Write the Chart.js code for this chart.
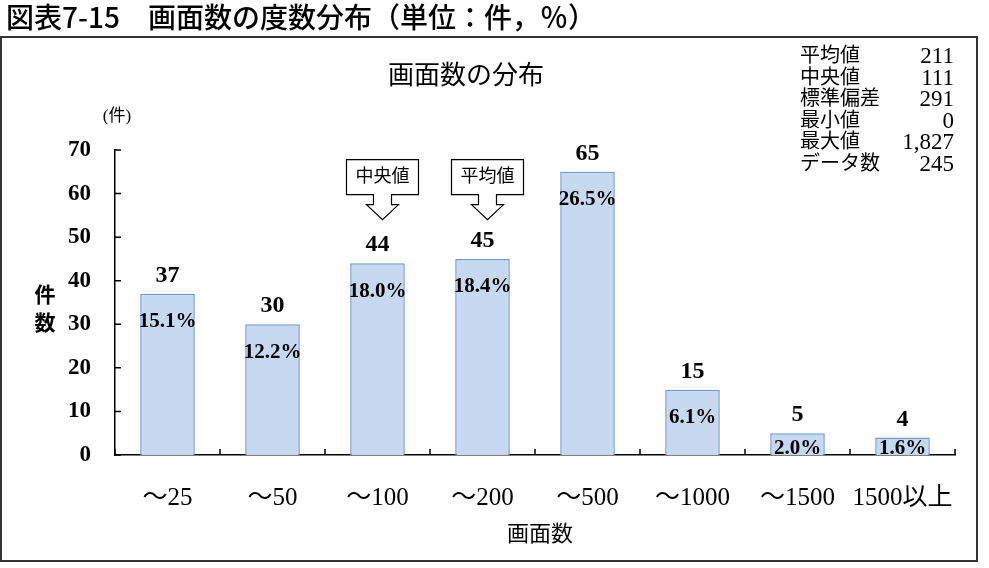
<!DOCTYPE html>
<html><head><meta charset="utf-8">
<script src="https://cdn.jsdelivr.net/npm/chart.js@4.4.1/dist/chart.umd.min.js"></script>
<style>html,body{margin:0;padding:0;background:#fff;}canvas{display:block;}</style>
</head><body>
<canvas id="c" width="989" height="568"></canvas>
<script>
const categories = ['～25','～50','～100','～200','～500','～1000','～1500','1500以上'];
const counts = [37,30,44,45,65,15,5,4];
const percents = ['15.1%','12.2%','18.0%','18.4%','26.5%','6.1%','2.0%','1.6%'];
const yTicks = [0,10,20,30,40,50,60,70];
const statLabels = ['平均値','中央値','標準偏差','最小値','最大値','データ数'];
const statValues = ['211','111','291','0','1,827','245'];
const calloutLabels = ['中央値','平均値'];
const calloutCategories = ['～100','～200'];
const calloutTipValues = [54,54];

const SERIF = '"Liberation Serif","DejaVu Serif","Noto Sans CJK JP",serif';
const SANS = '"Noto Sans CJK JP","Noto Sans",sans-serif';

const overlay = {
  id:'overlay',
  afterDraw(chart){
    const ctx = chart.ctx, ca = chart.chartArea;
    const ys = chart.scales.y;
    const meta = chart.getDatasetMeta(0);
    ctx.save();
    // frame
    ctx.strokeStyle = '#333'; ctx.lineWidth = 2;
    ctx.strokeRect(1, 37, 976, 524);
    // main title
    ctx.fillStyle = '#000';
    ctx.font = '500 28px ' + SANS;
    ctx.textAlign = 'left'; ctx.textBaseline = 'middle';
    ctx.fillText('図表7-15　画面数の度数分布（単位：件，％）', 6, 17);
    // chart title
    ctx.font = '26px ' + SERIF;
    ctx.textAlign = 'center';
    ctx.fillText('画面数の分布', 466, 77);
    // unit
    ctx.font = '17px ' + SERIF;
    ctx.fillText('(件)', 117, 117);
    // y title
    ctx.font = 'bold 21px ' + SERIF;
    ctx.fillText('件', 45, 297);
    ctx.fillText('数', 45, 325);
    // x title
    ctx.font = '22px ' + SERIF;
    ctx.fillText('画面数', 540, 535);
    // stats
    statLabels.forEach((l,i)=>{
      const y = 57 + i*21.5;
      ctx.font = '20px ' + SERIF;
      ctx.textAlign='left'; ctx.fillText(l, 800, y);
      ctx.font = '23px ' + SERIF;
      ctx.textAlign='right'; ctx.fillText(statValues[i], 954, y);
    });
    // axis tick marks (inside)
    ctx.strokeStyle='#000'; ctx.lineWidth=1.5;
    ctx.beginPath();
    yTicks.forEach(v=>{ const y=ys.getPixelForValue(v); ctx.moveTo(ca.left,y); ctx.lineTo(ca.left+6,y); });
    const step = (ca.right-ca.left)/categories.length;
    for(let i=0;i<=categories.length;i++){ const x=ca.left+i*step; ctx.moveTo(x,ca.bottom); ctx.lineTo(x,ca.bottom-6); }
    ctx.stroke();
    // count labels
    ctx.fillStyle='#000';
    ctx.textAlign='center'; ctx.textBaseline='middle';
    meta.data.forEach((bar,i)=>{
      ctx.font='bold 24px ' + SERIF;
      ctx.fillText(String(counts[i]), bar.x, bar.y-18);
    });
    // percent labels clipped to chart area
    ctx.save();
    ctx.beginPath(); ctx.rect(ca.left, ca.top, ca.right-ca.left, ca.bottom-ca.top); ctx.clip();
    meta.data.forEach((bar,i)=>{
      ctx.font='bold 21px ' + SERIF;
      ctx.fillText(percents[i], bar.x, Math.min(bar.y+28, ca.bottom-6));
    });
    ctx.restore();
    // callouts
    calloutLabels.forEach((lab,i)=>{
      const idx = categories.indexOf(calloutCategories[i]);
      const cx = meta.data[idx].x + 5;
      const tip = ys.getPixelForValue(calloutTipValues[i]);
      const bot = tip-25, top = bot-35, hw=36;
      ctx.beginPath();
      ctx.moveTo(cx-hw, top); ctx.lineTo(cx+hw, top); ctx.lineTo(cx+hw, bot);
      ctx.lineTo(cx+9, bot); ctx.lineTo(cx+9, bot+10); ctx.lineTo(cx+16, bot+10);
      ctx.lineTo(cx, tip); ctx.lineTo(cx-16, bot+10); ctx.lineTo(cx-9, bot+10);
      ctx.lineTo(cx-9, bot); ctx.lineTo(cx-hw, bot); ctx.closePath();
      ctx.fillStyle='#fff'; ctx.fill();
      ctx.strokeStyle='#000'; ctx.lineWidth=1.2; ctx.stroke();
      ctx.fillStyle='#000'; ctx.font='18px ' + SERIF;
      ctx.fillText(lab, cx, (top+bot)/2);
    });
    ctx.restore();
  }
};

new Chart(document.getElementById('c'), {
  type:'bar',
  data:{ labels: categories, datasets:[{ data: counts, backgroundColor:'#c6d9f1', borderColor:'#6f9bd4', borderWidth:1.5, barPercentage:0.52, categoryPercentage:1 }]},
  options:{
    responsive:false, animation:false, devicePixelRatio:1,
    layout:{ padding:{ top:150, right:34, left:0, bottom:0 } },
    plugins:{ legend:{display:false}, tooltip:{enabled:false}, title:{display:false} },
    scales:{
      x:{
        grid:{display:false, drawTicks:false},
        border:{display:true, color:'#000', width:1.5},
        ticks:{ color:'#000', font:{ family:SERIF, size:25 }, padding:28, maxRotation:0, autoSkip:false },
        afterFit(s){ s.height = 113; }
      },
      y:{
        min:0, max:70,
        grid:{display:false, drawTicks:false},
        border:{display:true, color:'#000', width:1.5},
        ticks:{ stepSize:10, color:'#000', font:{ family:SERIF, size:23, weight:'bold' }, padding:24 },
        afterFit(s){ s.width = 115; }
      }
    }
  },
  plugins:[overlay]
});
</script>
</body></html>
